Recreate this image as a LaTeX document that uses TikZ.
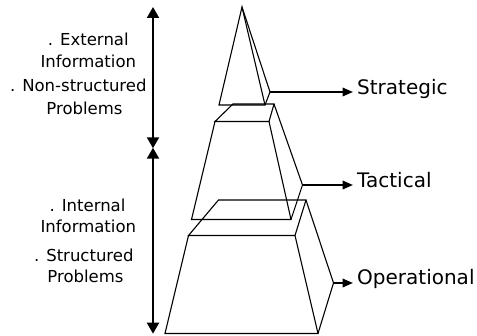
\documentclass[tikz,border=0pt]{standalone}
\usepackage{fontspec}
\setmainfont{DejaVu Sans}
\usetikzlibrary{arrows.meta}
\tikzset{
  vtip/.tip={Triangle[length=11pt,width=12pt]},
  htip/.tip={Triangle[length=10.5pt,width=8.5pt]},
}
\begin{document}
\begin{tikzpicture}[x=1pt,y=-1pt,
  edge/.style={line width=1.1pt,line join=miter},
  bigarrow/.style={line width=2pt},
  sidelab/.style={font=\fontsize{16.5}{19}\selectfont,inner sep=0pt,anchor=base},
  levellab/.style={font=\fontsize{20}{24}\selectfont,inner xsep=4pt,inner ysep=0pt,anchor=base west},
]
\useasboundingbox (0,0) rectangle (477,336);

% --- top pyramid (strategic)
\coordinate (sA)  at (242,7);
\coordinate (sBL) at (219,105);
\coordinate (sBR) at (265,105);
\coordinate (sC)  at (270,92);
\draw[edge] (sA) -- (sBL) -- (sBR) -- cycle;
\draw[edge] (sA) -- (sC) -- (sBR);

% --- middle frustum (tactical)
\coordinate (mTBL) at (233,104);
\coordinate (mTBR) at (274,104);
\coordinate (mTFL) at (215,121.5);
\coordinate (mTFR) at (269,121.5);
\coordinate (mBFL) at (191.5,219.5);
\coordinate (mBFR) at (291,219.5);
\coordinate (mC)   at (302.5,185);
\draw[edge] (mTBL) -- (mTBR) -- (mTFR) -- (mTFL) -- cycle;
\draw[edge] (mTFL) -- (mBFL) -- (mBFR) -- (mTFR);
\draw[edge] (mTBR) -- (mC) -- (mBFR);

% --- bottom frustum (operational)
\coordinate (bTBL) at (218.5,200);
\coordinate (bTBR) at (306,200);
\coordinate (bTFL) at (188.5,235.5);
\coordinate (bTFR) at (295,235.5);
\coordinate (bBFL) at (165,333.5);
\coordinate (bBFR) at (318,333.5);
\coordinate (bC)   at (333.5,283);
\draw[edge] (bTBL) -- (bTBR) -- (bTFR) -- (bTFL) -- cycle;
\draw[edge] (bTFL) -- (bBFL) -- (bBFR) -- (bTFR);
\draw[edge] (bTBR) -- (bC) -- (bBFR);

% --- level labels
\node[levellab] (strat) at (353,95)    {Strategic};
\node[levellab] (tact)  at (353,187.5) {Tactical};
\node[levellab] (oper)  at (353,285)   {Operational};
\draw[bigarrow,-htip] (sC) -- (sC -| strat.west);
\draw[bigarrow,-htip] (mC) -- (mC -| tact.west);
\draw[bigarrow,-htip] (bC) -- (bC -| oper.west);

% --- vertical range arrows
\coordinate (vTop) at (153,7);
\coordinate (vMidU) at (153,148.3);
\coordinate (vMidL) at (153,147.7);
\coordinate (vBot) at (153,333.7);
\draw[bigarrow,vtip-vtip] (vTop) -- (vMidU);
\draw[bigarrow,vtip-vtip] (vMidL) -- (vBot);

% --- side descriptions
\node[sidelab] (t1) at (88.3,46)   {. External};
\node[sidelab] (t2) at (88.3,68)   {Information};
\node[sidelab] (t3) at (78.3,91.7) {. Non-structured};
\node[sidelab] (t4) at (84.5,115)  {Problems};
\node[sidelab] (t5) at (87.5,211.7) {. Internal};
\node[sidelab] (t6) at (88.3,232.7) {Information};
\node[sidelab] (t7) at (83.8,261.7) {. Structured};
\node[sidelab] (t8) at (85.5,283)   {Problems};
\end{tikzpicture}
\end{document}
